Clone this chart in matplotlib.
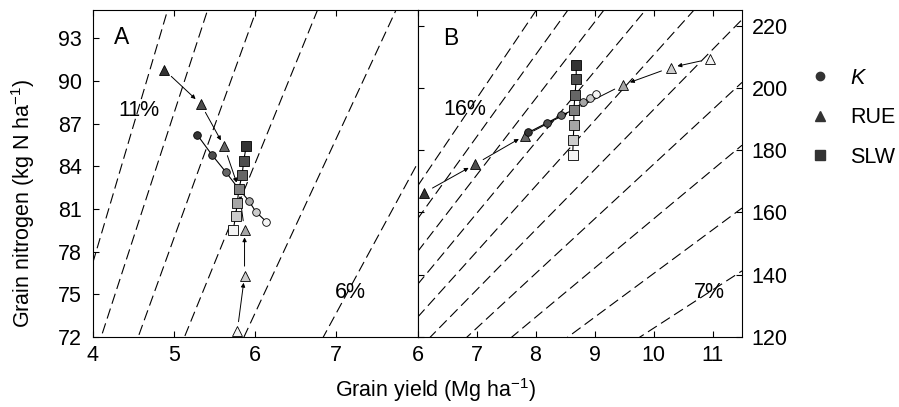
import matplotlib
matplotlib.use("Agg")
import matplotlib.pyplot as plt
from matplotlib.lines import Line2D
import numpy as np

plt.rcParams['font.family'] = ['Liberation Sans', 'DejaVu Sans']
plt.rcParams['mathtext.fontset'] = 'custom'
plt.rcParams['mathtext.rm'] = 'Liberation Sans'
plt.rcParams['mathtext.it'] = 'Liberation Sans:italic'

# ---------------- data ----------------
shades = ['#333333', '#4d4d4d', '#666666', '#808080', '#a6a6a6', '#cccccc', '#f4f4f4']

# Panel A
K_yield_A = [5.29, 5.47, 5.64, 5.80, 5.92, 6.01, 6.14]
K_N_A = [86.2, 84.8, 83.6, 82.4, 81.6, 80.8, 80.1]
RUE_yield_A = [4.88, 5.33, 5.62, 5.80, 5.87, 5.87, 5.78]
RUE_N_A = [90.8, 88.4, 85.4, 82.4, 79.5, 76.3, 72.4]
SLW_yield_A = [5.89, 5.86, 5.84, 5.80, 5.78, 5.76, 5.73]
SLW_N_A = [85.4, 84.4, 83.4, 82.4, 81.4, 80.5, 79.5]

# Panel B
K_yield_B = [7.88, 8.20, 8.44, 8.65, 8.81, 8.92, 9.02]
K_N_B = [185.7, 188.8, 191.2, 193.0, 195.5, 196.8, 198.0]
RUE_yield_B = [6.11, 6.97, 7.82, 8.65, 9.49, 10.29, 10.96]
RUE_N_B = [166.3, 175.4, 184.7, 193.0, 201.0, 206.5, 209.3]
SLW_yield_B = [8.69, 8.69, 8.67, 8.65, 8.65, 8.64, 8.63]
SLW_N_B = [207.4, 202.7, 197.8, 193.0, 188.1, 183.1, 178.4]

# Protein concentration isolines (%), N factor 5.7
protein_A = [6, 7, 8, 9, 10, 11]
protein_B = [7, 8, 9, 10, 11, 12, 13, 14, 15, 16]
n_factor = 5.7

xticks_A = [4, 5, 6, 7]
yticks_A = [72, 75, 78, 81, 84, 87, 90, 93]
xticks_B = [6, 7, 8, 9, 10, 11]
yticks_B = [120, 140, 160, 180, 200, 220]

FS = 15.5

fig = plt.figure(figsize=(8.99, 4.07), dpi=100)
W, H = 899, 407
def axrect(l, r, t, b):
    return [l / W, (H - b) / H, (r - l) / W, (b - t) / H]

axA = fig.add_axes(axrect(92.7, 417.5, 10, 337))
axB = fig.add_axes(axrect(417.5, 742, 10, 337))

def isolines(ax, pcts, xlim):
    xs = np.linspace(xlim[0], xlim[1], 200)
    for p in pcts:
        ax.plot(xs, xs * p * 10 / n_factor, color='k', lw=0.8,
                dashes=(9.5, 4.5), zorder=1)

def series(ax, xs, ys, marker, ms, arrows=False):
    if not arrows:
        ax.plot(xs, ys, color='k', lw=0.8, zorder=2)
    else:
        c = 3
        pairs = [(0, 1), (1, 2), (2, c), (6, 5), (5, 4), (4, c)]
        for a, b in pairs:
            ax.annotate('', xy=(xs[b], ys[b]), xytext=(xs[a], ys[a]),
                        arrowprops=dict(arrowstyle='-|>', color='k', lw=0.7,
                                        mutation_scale=6, shrinkA=7, shrinkB=5),
                        zorder=2)
    for x, y, c in zip(xs, ys, shades):
        ax.plot([x], [y], marker=marker, ms=ms, mfc=c, mec='k', mew=0.6,
                ls='none', zorder=3, clip_on=False)

# Panel A
axA.set_xlim(4, 8)
axA.set_ylim(72, 95)
isolines(axA, protein_A, (4, 8))
series(axA, RUE_yield_A, RUE_N_A, '^', 7.5, arrows=True)
series(axA, K_yield_A, K_N_A, 'o', 5.5)
series(axA, SLW_yield_A, SLW_N_A, 's', 6.5)
axA.set_xticks(xticks_A)
axA.set_yticks(yticks_A)
axA.tick_params(axis='both', which='both', direction='in', labelsize=FS,
                top=True, right=False, length=4, width=0.8, pad=6)
axA.tick_params(axis='y', pad=8)
axA.text(4.36, 93.1, 'A', fontsize=FS + 1, ha='center', va='center')
axA.text(4.57, 87.9, '11%', fontsize=FS, ha='center', va='center')
axA.text(7.17, 75.1, '6%', fontsize=FS, ha='center', va='center')

# Panel B
axB.set_xlim(6, 11.5)
axB.set_ylim(120, 225)
isolines(axB, protein_B, (6, 11.5))
series(axB, RUE_yield_B, RUE_N_B, '^', 7.5, arrows=True)
series(axB, K_yield_B, K_N_B, 'o', 5.5)
series(axB, SLW_yield_B, SLW_N_B, 's', 6.5)
axB.set_xticks(xticks_B)
axB.set_yticks(yticks_B)
axB.yaxis.tick_right()
axB.tick_params(axis='both', which='both', direction='in', labelsize=FS,
                top=True, left=True, right=True, length=4, width=0.8, pad=6)
axB.tick_params(axis='y', labelleft=False, labelright=True, pad=7)
axB.text(6.57, 216, 'B', fontsize=FS + 1, ha='center', va='center')
axB.text(6.8, 193, '16%', fontsize=FS, ha='center', va='center')
axB.text(10.95, 134.2, '7%', fontsize=FS, ha='center', va='center')

for ax in (axA, axB):
    for s in ax.spines.values():
        s.set_linewidth(0.8)

fig.text(23 / W, 0.5, 'Grain nitrogen (kg N ha$\\mathregular{^{-1}}$)',
         rotation=90, fontsize=FS, ha='center', va='center')
fig.text(436 / W, 1 - 390 / H, 'Grain yield (Mg ha$\\mathregular{^{-1}}$)',
         fontsize=FS, ha='center', va='center')

handles = [
    Line2D([], [], marker='o', ls='none', ms=6, mfc='#333333', mec='#333333'),
    Line2D([], [], marker='^', ls='none', ms=7, mfc='#333333', mec='#333333'),
    Line2D([], [], marker='s', ls='none', ms=6.5, mfc='#333333', mec='#333333'),
]
labels = ['$K$', 'RUE', 'SLW']
fig.legend(handles, labels, loc='upper left', bbox_to_anchor=(809 / W, 1 - 68 / H),
           frameon=False, fontsize=FS, handlelength=1.0, handletextpad=0.9,
           labelspacing=0.85, borderpad=0, borderaxespad=0)

fig.savefig('out.png', dpi=100)
